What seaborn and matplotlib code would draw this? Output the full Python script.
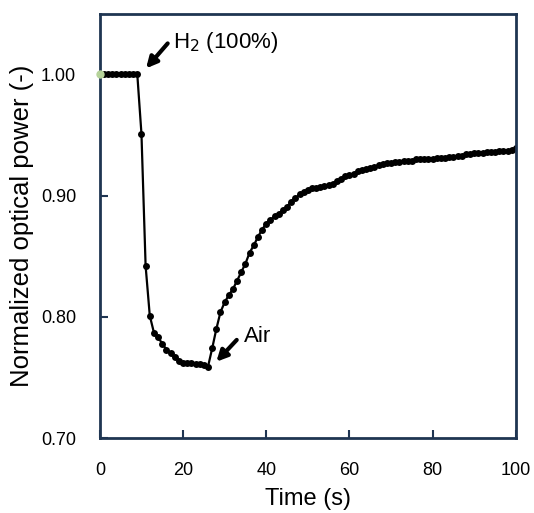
import numpy as np
import pandas as pd
import matplotlib
matplotlib.use('Agg')
import matplotlib.pyplot as plt
import seaborn as sns

# time (s), one sample per second
time_s = list(range(0, 101))
# normalized optical power
power = [
    1.000, 1.000, 1.000, 1.000, 1.000, 1.000, 1.000, 1.000, 1.000, 1.000,  # 0-9
    0.951, 0.842, 0.801, 0.787, 0.783, 0.778, 0.773, 0.770, 0.767, 0.764,  # 10-19
    0.762, 0.762, 0.762, 0.761, 0.761, 0.760, 0.759, 0.774, 0.790, 0.804,  # 20-29
    0.812, 0.818, 0.823, 0.830, 0.837, 0.844, 0.853, 0.859, 0.866, 0.872,  # 30-39
    0.877, 0.880, 0.883, 0.885, 0.888, 0.891, 0.895, 0.898, 0.901, 0.903,  # 40-49
    0.905, 0.906, 0.906, 0.907, 0.908, 0.909, 0.910, 0.912, 0.914, 0.916,  # 50-59
    0.917, 0.918, 0.920, 0.921, 0.922, 0.923, 0.924, 0.925, 0.926, 0.927,  # 60-69
    0.927, 0.928, 0.928, 0.929, 0.929, 0.929, 0.930, 0.930, 0.930, 0.930,  # 70-79
    0.930, 0.931, 0.931, 0.931, 0.932, 0.932, 0.933, 0.933, 0.934, 0.934,  # 80-89
    0.935, 0.935, 0.935, 0.936, 0.936, 0.936, 0.937, 0.937, 0.937, 0.938,  # 90-99
    0.939,                                                                 # 100
]
x_ticks = [0, 20, 40, 60, 80, 100]
y_ticks = [0.70, 0.80, 0.90, 1.00]

df = pd.DataFrame({'time': time_s, 'power': power})

sns.set_style('white')
plt.rcParams['font.family'] = ['Liberation Sans', 'DejaVu Sans']
plt.rcParams['text.color'] = 'black'
plt.rcParams['axes.labelcolor'] = 'black'

fig = plt.figure(figsize=(5.34, 5.13), dpi=100)
ax = fig.add_axes([0.187, 0.146, 0.779, 0.827])

sns.lineplot(data=df, x='time', y='power', ax=ax, color='black', linewidth=1.6,
             marker='o', markersize=5, markeredgewidth=0)
# first sample drawn in light green as in the original
ax.plot(time_s[0], power[0], 'o', color='#b6d39a', markersize=5, zorder=5, clip_on=False)

ax.set_xlim(0, 100)
ax.set_ylim(0.70, 1.05)
ax.set_xticks(x_ticks)
ax.set_yticks(y_ticks)
ax.set_xticklabels([str(v) for v in x_ticks])
ax.set_yticklabels([f'{v:.2f}' for v in y_ticks])

spine_color = '#1f3552'
for s in ax.spines.values():
    s.set_color(spine_color)
    s.set_linewidth(2)
ax.tick_params(axis='both', direction='in', length=6, width=1.5, color=spine_color,
               labelsize=13, labelcolor='black')
ax.tick_params(axis='x', pad=17)
ax.tick_params(axis='y', pad=17)
ax.tick_params(bottom=True, left=True, top=False, right=False)

ax.set_xlabel('Time (s)', fontsize=17, labelpad=7)
ax.set_ylabel('Normalized optical power (-)', fontsize=18.5, labelpad=5)

arrow = dict(arrowstyle='-|>', color='black', lw=3, mutation_scale=16, shrinkA=0, shrinkB=0)
ax.annotate('', xy=(11.1, 1.005), xytext=(16.3, 1.0256), arrowprops=arrow)
ax.text(17.5, 1.026, r'H$_2$ (100%)', fontsize=16, ha='left', va='center')
ax.annotate('', xy=(28.0, 0.763), xytext=(32.9, 0.781), arrowprops=arrow)
ax.text(34.6, 0.784, 'Air', fontsize=16, ha='left', va='center')

fig.savefig('out.png', dpi=100)
